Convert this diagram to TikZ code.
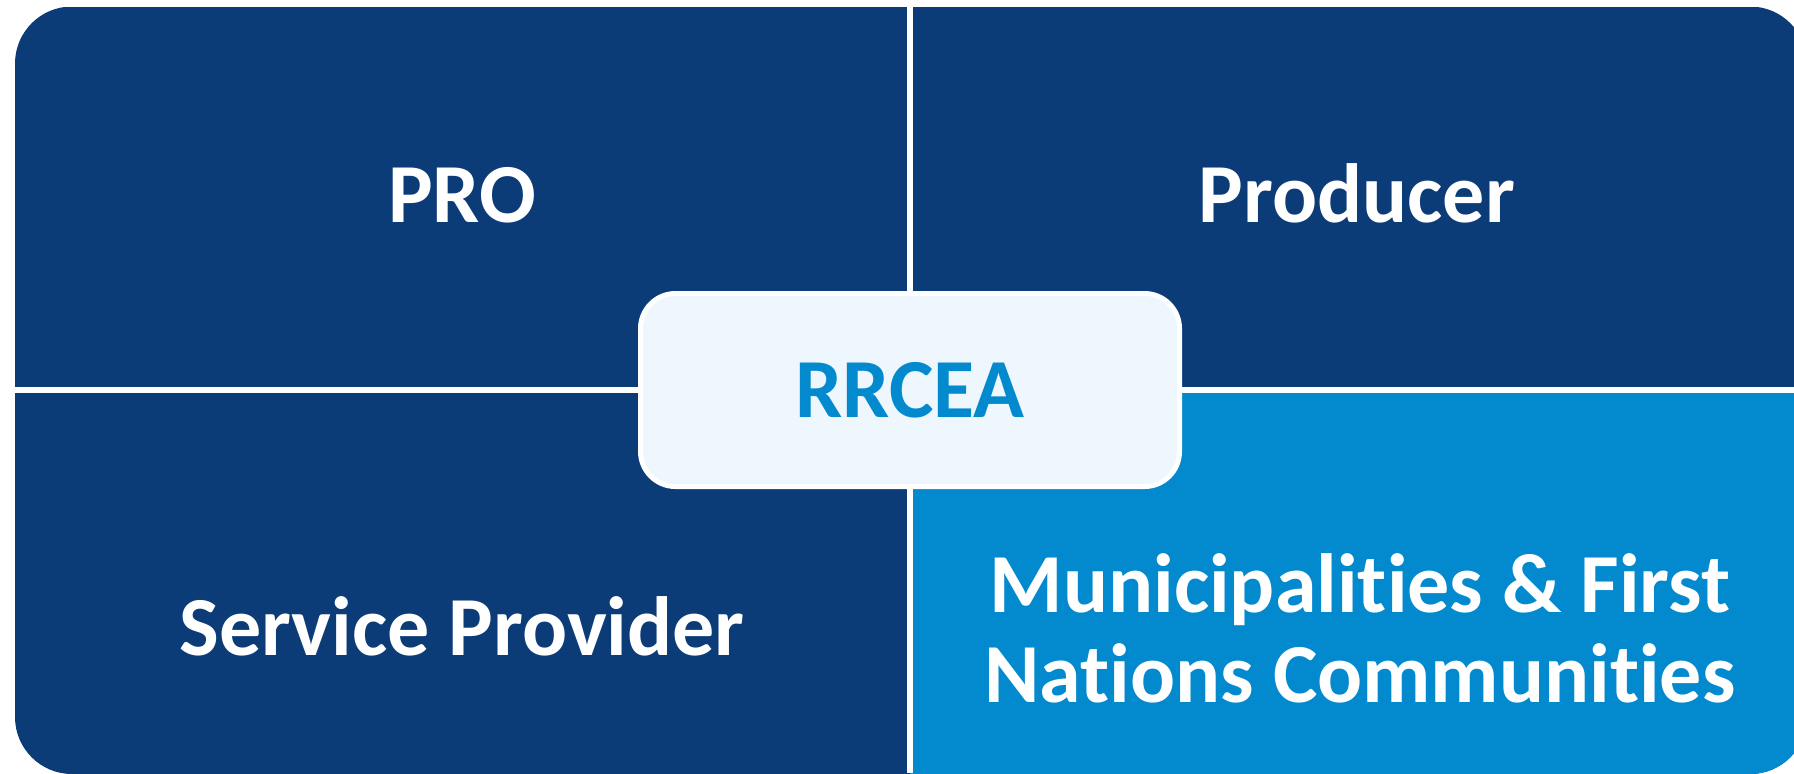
\documentclass[tikz,border=0pt]{standalone}
\usepackage{fontspec}
\setmainfont{Carlito}[Ligatures={NoCommon,NoContextual}]
\definecolor{navy}{RGB}{11,60,120}
\definecolor{skyblue}{RGB}{2,137,206}
\definecolor{paleblue}{RGB}{238,246,254}

\begin{document}
\begin{tikzpicture}[x=0.5pt,y=-0.5pt,
    label/.style={text=white,font=\fontsize{42pt}{45pt}\selectfont\bfseries,inner sep=0pt,anchor=base},
    gap/.style={white,line width=2.75pt},
    hub/.style={draw=white,line width=2.5pt,fill=paleblue,rounded corners=17.5pt,
        minimum width=269.5pt,minimum height=96.5pt,text=skyblue,
        font=\fontsize{42pt}{45pt}\selectfont\bfseries}]

\useasboundingbox (0,0) rectangle (1794,773);
\clip (0,0) rectangle (1794,773);

\coordinate (cross) at (910,390);

\begin{scope}
\clip[rounded corners=28.5pt] (15,6.5) rectangle (1807,774);
\fill[navy] (15,6.5) rectangle (1807,774);
\fill[skyblue] (cross) rectangle (1807,774);
\end{scope}

\draw[gap] (910,0)--(910,773);
\draw[gap] (0,390)--(1794,390);

\node[label] (pro) at (462,222) {PRO};
\node[label] (producer) at (1357,222) {Producer};
\node[label] (service) at (462,655) {Service Provider};
\node[label,align=center,anchor=north] (munic) at (1360,553)
    {Municipalities \& First\\Nations Communities};

\node[hub] (rrcea) at (cross) {RRCEA};
\end{tikzpicture}
\end{document}
